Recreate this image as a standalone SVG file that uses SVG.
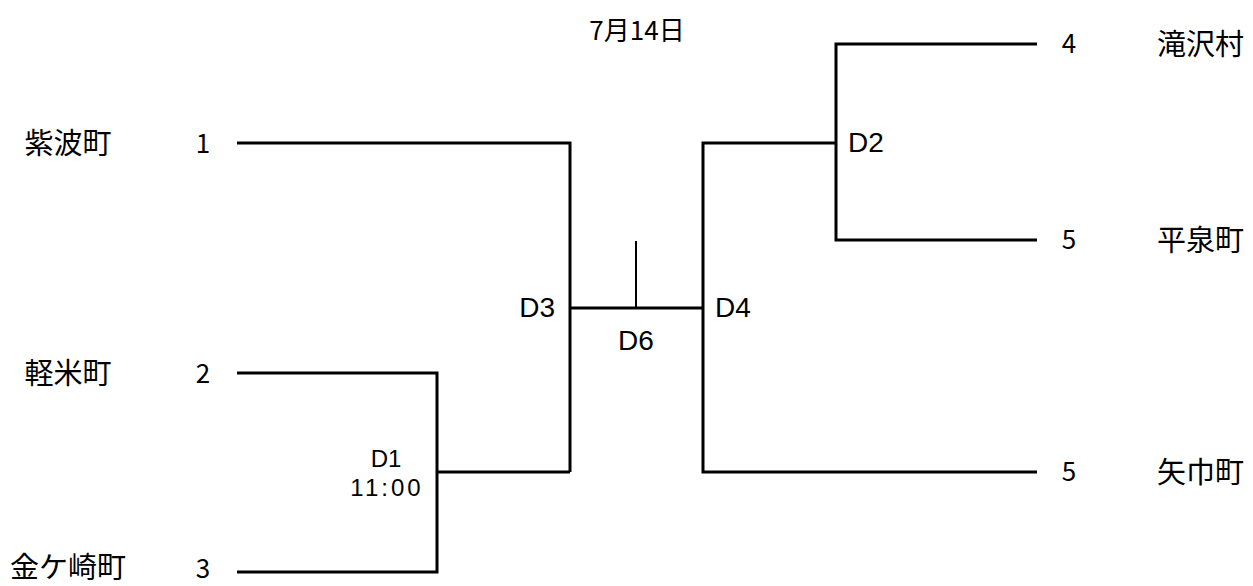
<svg xmlns="http://www.w3.org/2000/svg" width="1253" height="586" viewBox="0 0 1253 586">
<style>
.ln{fill:none;stroke:#000;stroke-width:3;stroke-linecap:butt;stroke-linejoin:miter}
.tk{fill:none;stroke:#000;stroke-width:2}
.nm{font-family:"Noto Sans CJK JP","Noto Sans",sans-serif;font-size:29px;fill:#000}
.num{font-family:"Noto Sans CJK JP","Noto Sans",sans-serif;font-size:26px;fill:#000;text-anchor:middle}
.lb{font-family:"Liberation Sans",Arial,sans-serif;font-size:28px;fill:#000}
.sm{font-family:"Liberation Sans",Arial,sans-serif;font-size:24px;fill:#000;text-anchor:middle}
</style>
<rect width="1253" height="586" fill="#fff"/>
<g id="connectors">
<path class="ln" d="M237,143 H570 V472"/>
<path class="ln" d="M237,373 H437 V572 H237"/>
<path class="ln" d="M437,472 H570"/>
<path class="ln" d="M570,308 H703"/>
<path class="tk" d="M636,241 V308"/>
<path class="ln" d="M1037,44 H836 V240 H1037"/>
<path class="ln" d="M836,143 H703 V472 H1037"/>
</g>
<g id="title"><text class="num" x="637" y="40">7月14日</text></g>
<g id="team1"><text class="nm" x="68" y="154" text-anchor="middle">紫波町</text><text class="num" x="203" y="153">1</text></g>
<g id="team2"><text class="nm" x="68" y="384" text-anchor="middle">軽米町</text><text class="num" x="203" y="383">2</text></g>
<g id="team3"><text class="nm" x="68" y="578" text-anchor="middle">金ケ崎町</text><text class="num" x="203" y="578">3</text></g>
<g id="team4"><text class="num" x="1069" y="53">4</text><text class="nm" x="1157" y="55">滝沢村</text></g>
<g id="team5a"><text class="num" x="1069" y="249">5</text><text class="nm" x="1157" y="251">平泉町</text></g>
<g id="team5b"><text class="num" x="1069" y="481">5</text><text class="nm" x="1157" y="483">矢巾町</text></g>
<g id="D1"><text class="sm" x="386" y="467">D1</text><text class="sm" x="387" y="496" letter-spacing="3">11:00</text></g>
<g id="D2"><text class="lb" x="848" y="152">D2</text></g>
<g id="D3"><text class="lb" x="555" y="317" text-anchor="end">D3</text></g>
<g id="D4"><text class="lb" x="715" y="317">D4</text></g>
<g id="D6"><text class="lb" x="636" y="350" text-anchor="middle">D6</text></g>
</svg>
